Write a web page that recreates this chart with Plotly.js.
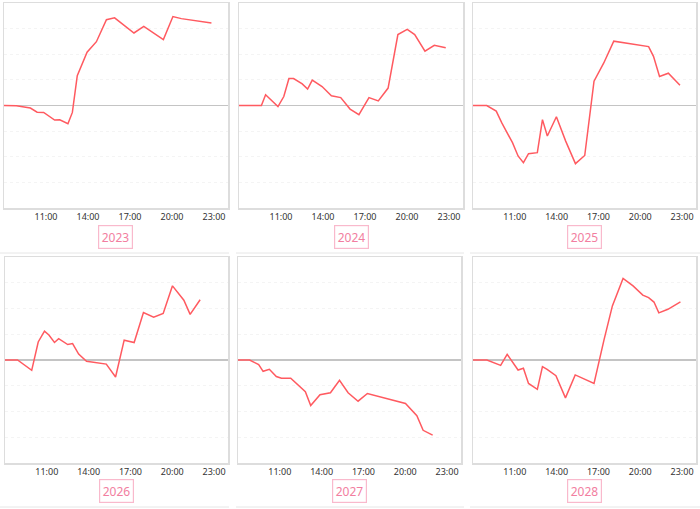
<!DOCTYPE html>
<html>
<head>
<meta charset="utf-8">
<script src="https://cdn.plot.ly/plotly-3.0.1.min.js"></script>
<style>html,body{margin:0;padding:0;background:#fff;}#chart{width:700px;height:509px;}</style>
</head>
<body>
<div id="chart"></div>
<script>
// ---- data ----
const years = ["2023", "2024", "2025", "2026", "2027", "2028"];

const times2023 = ["08:00","08:53","09:53","10:22","10:50","11:37","11:59","12:34","12:53","13:14","13:56","14:36","15:19","15:54","17:17","17:59","19:23","20:04","20:40","22:49"];
const values2023 = [0,-0.01,-0.1,-0.26,-0.27,-0.57,-0.56,-0.71,-0.27,1.16,2.08,2.49,3.35,3.42,2.83,3.09,2.57,3.47,3.39,3.22];

const times2024 = ["08:00","09:36","09:54","10:22","10:47","11:12","11:34","11:54","12:31","12:54","13:14","13:56","14:36","15:16","15:56","16:34","17:17","17:57","18:39","19:21","20:01","20:33","21:17","21:57","22:46"];
const values2024 = [0,0,0.42,0.16,-0.04,0.35,1.05,1.05,0.84,0.64,0.99,0.74,0.38,0.31,-0.14,-0.36,0.31,0.18,0.68,2.77,2.97,2.77,2.12,2.35,2.25];

const times2025 = ["08:00","08:59","09:40","10:04","10:50","11:14","11:37","11:59","12:37","12:59","13:20","13:59","14:39","15:21","16:01","16:41","17:23","18:06","20:36","20:57","21:23","22:01","22:51"];
const values2025 = [0,0,-0.22,-0.68,-1.45,-1.97,-2.23,-1.88,-1.84,-0.55,-1.19,-0.44,-1.39,-2.27,-1.95,0.95,1.66,2.51,2.3,1.92,1.13,1.26,0.79];

const times2026 = ["08:00","08:54","09:55","10:23","10:50","11:09","11:33","11:51","12:30","12:51","13:17","13:51","15:16","15:56","16:33","17:16","17:56","18:40","19:21","20:01","20:50","21:17","22:00"];
const values2026 = [0,0,-0.4,0.7,1.12,0.97,0.68,0.83,0.6,0.64,0.23,-0.05,-0.16,-0.66,0.77,0.68,1.84,1.66,1.81,2.88,2.32,1.77,2.34];

const times2027 = ["08:00","08:50","09:29","09:48","10:15","10:45","11:07","11:47","12:50","13:13","13:53","14:38","15:17","15:54","16:37","17:17","20:01","20:27","20:50","21:17","21:58"];
const values2027 = [0,0,-0.18,-0.44,-0.36,-0.64,-0.71,-0.71,-1.23,-1.77,-1.35,-1.27,-0.79,-1.27,-1.6,-1.3,-1.69,-1.92,-2.16,-2.73,-2.92];

const times2028 = ["08:00","09:00","09:59","10:27","11:14","11:37","11:59","12:37","12:59","13:19","13:57","14:38","15:20","16:41","17:24","18:00","18:46","19:29","20:11","20:36","20:59","21:20","21:59","22:53"];
const values2028 = [0,0,-0.21,0.22,-0.39,-0.32,-0.91,-1.14,-0.26,-0.36,-0.61,-1.47,-0.58,-0.91,0.78,2.1,3.17,2.88,2.52,2.42,2.25,1.83,1.97,2.26];

const tickTimes = ["11:00","14:00","17:00","20:00","23:00"];

// ---- build ----
const allTimes = [times2023, times2024, times2025, times2026, times2027, times2028];
const allValues = [values2023, values2024, values2025, values2026, values2027, values2028];
const day = "2000-01-01 ";
const W = 700, H = 509;
const colPx = [[[4,228],[239,463],[473,696]],[[5,228],[238,461],[473,696]]];
const rowPx = [[3,208],[257,463]];
const titleY = [237, 491];

const data = [];
const layout = {
  width: W, height: H,
  margin: {l:0, r:0, t:0, b:0},
  paper_bgcolor: "#ffffff",
  plot_bgcolor: "#ffffff",
  showlegend: false,
  font: {family: "Noto Sans, sans-serif", size: 9, color: "#333"},
  annotations: [],
  shapes: []
};

for (let i = 0; i < 6; i++) {
  const r = Math.floor(i / 3), c = i % 3;
  const n = i === 0 ? "" : String(i + 1);
  data.push({
    type: "scatter", mode: "lines",
    x: allTimes[i].map(t => day + t),
    y: allValues[i],
    xaxis: "x" + n, yaxis: "y" + n,
    line: {color: "#ff5a60", width: 1.5},
    hoverinfo: "skip"
  });
  const xd = colPx[r][c], yd = rowPx[r];
  layout["xaxis" + n] = {
    domain: [xd[0] / W, xd[1] / W],
    type: "date",
    range: [day + "08:00", "2000-01-02 00:00"],
    tickvals: tickTimes.map(t => day + t),
    ticktext: tickTimes,
    showgrid: false,
    zeroline: false,
    showline: true, mirror: true,
    linecolor: "#dddddd", linewidth: 1.5,
    ticks: "",
    tickfont: {size: 9, color: "#333"},
    anchor: "y" + n,
    fixedrange: true
  };
  layout["yaxis" + n] = {
    domain: [1 - yd[1] / H, 1 - yd[0] / H],
    range: [-4, 4],
    dtick: 1,
    showticklabels: false,
    showgrid: true,
    gridcolor: "#f4f4f4",
    griddash: "dot",
    gridwidth: 1,
    zeroline: true,
    zerolinecolor: "#c4c4c4",
    zerolinewidth: 1.5,
    showline: true, mirror: true,
    linecolor: "#dddddd", linewidth: 1.5,
    ticks: "",
    anchor: "x" + n,
    fixedrange: true
  };
  layout.annotations.push({
    xref: "paper", yref: "paper",
    x: (xd[0] + xd[1]) / 2 / W,
    y: 1 - titleY[r] / H,
    xanchor: "center", yanchor: "middle",
    text: years[i],
    showarrow: false,
    font: {size: 12, color: "#f27ea0"},
    bgcolor: "#ffffff",
    bordercolor: "#f9b9cc",
    borderwidth: 1.2,
    borderpad: 2.5
  });
  const sepY = r === 0 ? 253 : 507;
  const sx = c === 0 ? [0, 229] : (c === 1 ? [236, 464] : [470, 700]);
  layout.shapes.push({
    type: "line", xref: "paper", yref: "paper",
    x0: sx[0] / W, x1: sx[1] / W, y0: 1 - sepY / H, y1: 1 - sepY / H,
    line: {color: "#e6e6e6", width: 1}
  });
}

Plotly.newPlot("chart", data, layout, {displayModeBar: false, staticPlot: true});
</script>
</body>
</html>
